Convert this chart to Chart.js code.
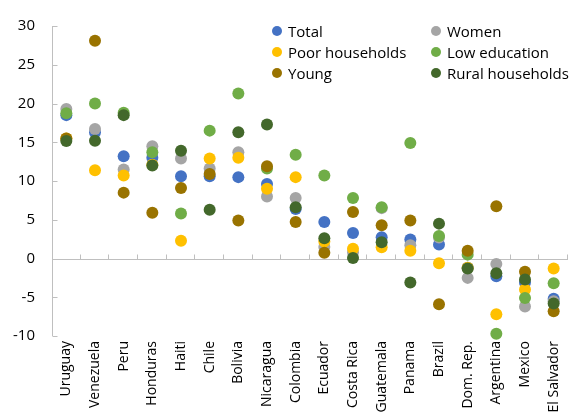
<!DOCTYPE html>
<html>
<head>
<meta charset="utf-8">
<script src="https://cdn.jsdelivr.net/npm/chart.js@4"></script>
<style>
  html, body { margin: 0; padding: 0; background: #fff; }
  .wrap { position: relative; width: 574px; height: 412px; }
  .legend {
    position: absolute; left: 270px; top: 20px;
    display: grid; grid-template-columns: 159px auto; row-gap: 0;
    font-family: 'Open Sans', 'Noto Sans', sans-serif; font-size: 15px; color: #000;
  }
  .legend div { display: flex; align-items: center; height: 21px; white-space: nowrap; }
  .legend i { display: inline-block; width: 10px; height: 10px; border-radius: 50%; margin: 0 6px 0 2px; }
</style>
</head>
<body>
<div class="wrap">
  <canvas id="chart"></canvas>
  <div class="legend" id="legend"></div>
</div>
<script>
// ── Data ──────────────────────────────────────────────────────────────────────

const COUNTRIES = [
  'Uruguay', 'Venezuela', 'Peru', 'Honduras', 'Haiti', 'Chile', 'Bolivia',
  'Nicaragua', 'Colombia', 'Ecuador', 'Costa Rica', 'Guatemala', 'Panama',
  'Brazil', 'Dom. Rep.', 'Argentina', 'Mexico', 'El Salvador',
];

const TOTAL = [18.5, 16.3, 13.2, 13.0, 10.6, 10.6, 10.5, 9.6, 6.4, 4.7, 3.3, 2.75, 2.45, 1.8, -1.2, -2.3, -3.1, -5.2];
const WOMEN = [19.3, 16.7, 11.5, 14.5, 12.9, 11.6, 13.7, 8.0, 7.8, 1.5, 0.8, 6.5, 1.7, 2.7, -2.5, -0.7, -6.2, -5.5];
const POOR  = [15.5, 11.4, 10.7, 12.1, 2.3, 12.9, 13.0, 9.0, 10.5, 2.2, 1.25, 1.45, 1.0, -0.6, -1.2, -7.2, -4.0, -1.3];
const LOWED = [18.75, 20.0, 18.8, 13.7, 5.8, 16.5, 21.3, 11.6, 13.4, 10.7, 7.8, 6.6, 14.9, 2.9, 0.5, -9.7, -5.1, -3.2];
const YOUNG = [15.5, 28.1, 8.5, 5.9, 9.1, 10.9, 4.9, 11.9, 4.7, 0.75, 6.0, 4.3, 4.9, -5.9, 1.0, 6.75, -1.7, -6.8];
const RURAL = [15.15, 15.2, 18.5, 12.0, 13.9, 6.3, 16.3, 17.3, 6.6, 2.6, 0.05, 2.1, -3.1, 4.5, -1.3, -1.9, -2.7, -5.8];

const Y_MIN = -10;
const Y_MAX = 30;
const Y_STEP = 5;

// legend order is row-wise: Total | Women, Poor | Low education, Young | Rural
const SERIES = [
  { label: 'Total',             data: TOTAL, color: '#4472C4', z: 6 },
  { label: 'Women',             data: WOMEN, color: '#A5A5A5', z: 5 },
  { label: 'Poor households',   data: POOR,  color: '#FFC000', z: 4 },
  { label: 'Low education',     data: LOWED, color: '#70AD47', z: 3 },
  { label: 'Young',             data: YOUNG, color: '#997300', z: 2 },
  { label: 'Rural households',  data: RURAL, color: '#43682B', z: 1 },
];

const AXIS = '#BFBFBF';
const FONT = "'Open Sans', 'Noto Sans', sans-serif";

// ── Axis lines (inside ticks, zero line with category ticks) ──────────────────

const axisLines = {
  id: 'axisLines',
  beforeDatasetsDraw(chart) {
    const { ctx, chartArea: a, scales: { x, y } } = chart;
    ctx.save();
    ctx.strokeStyle = AXIS;
    ctx.lineWidth = 1;
    ctx.beginPath();
    const lx = Math.round(a.left) + 0.5;
    ctx.moveTo(lx, a.top);
    ctx.lineTo(lx, a.bottom);
    y.ticks.forEach(t => {
      const py = Math.round(y.getPixelForValue(t.value)) + 0.5;
      ctx.moveTo(lx, py);
      ctx.lineTo(lx + 5, py);
    });
    const zy = Math.round(y.getPixelForValue(0)) + 0.5;
    ctx.moveTo(lx, zy);
    ctx.lineTo(a.right, zy);
    for (let i = 1; i <= COUNTRIES.length; i++) {
      const bx = i < COUNTRIES.length
        ? (x.getPixelForTick(i - 1) + x.getPixelForTick(i)) / 2
        : a.right;
      const px = Math.round(bx) - 0.5;
      ctx.moveTo(px, zy);
      ctx.lineTo(px, zy - 5);
    }
    ctx.stroke();
    ctx.restore();
  },
};

// ── Chart ─────────────────────────────────────────────────────────────────────

const wrap = document.querySelector('.wrap');

new Chart(document.getElementById('chart'), {
  type: 'line',
  data: {
    labels: COUNTRIES,
    datasets: SERIES.map(s => ({
      label: s.label,
      data: s.data,
      order: s.z,
      showLine: false,
      pointRadius: 6,
      pointHoverRadius: 6,
      pointBorderWidth: 0,
      pointBackgroundColor: s.color,
      borderColor: s.color,
      backgroundColor: s.color,
    })),
  },
  options: {
    responsive: true,
    maintainAspectRatio: false,
    animation: false,
    clip: false,
    layout: { padding: { top: 26, right: 2.5, left: 0, bottom: 0 } },
    plugins: { legend: { display: false }, tooltip: { enabled: false } },
    scales: {
      x: {
        offset: true,
        grid: { display: false, drawTicks: false },
        border: { display: false },
        ticks: {
          autoSkip: false,
          minRotation: 90,
          maxRotation: 90,
          padding: 5,
          color: '#000',
          font: { family: FONT, size: 14 },
        },
        afterFit(s) { s.height = 76; s.paddingLeft = 0; s.paddingRight = 0; },
      },
      y: {
        min: Y_MIN,
        max: Y_MAX,
        grid: { display: false, drawTicks: false },
        border: { display: false },
        ticks: {
          stepSize: Y_STEP,
          padding: 17,
          color: '#000',
          font: { family: FONT, size: 15 },
        },
        afterFit(s) { s.width = 52; s.paddingTop = 0; s.paddingBottom = 0; },
      },
    },
  },
  plugins: [axisLines],
});

// ── Legend ────────────────────────────────────────────────────────────────────

document.getElementById('legend').innerHTML = SERIES
  .map(s => `<div><i style="background:${s.color}"></i>${s.label}</div>`)
  .join('');
</script>
</body>
</html>
